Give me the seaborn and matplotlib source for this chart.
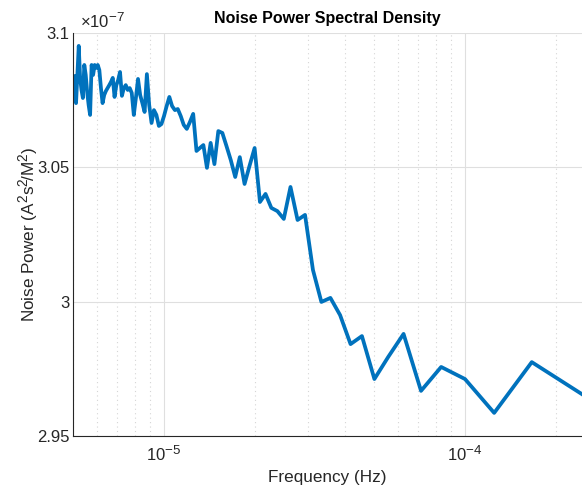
import numpy as np
import pandas as pd
import matplotlib
matplotlib.use("Agg")
import matplotlib.pyplot as plt
import matplotlib.ticker as mticker
import matplotlib._mathtext as _mt
import seaborn as sns

# Frequency grid: f = 5e-4 / n  for n = 100 ... 2  (Hz)
divisors = np.arange(100, 1, -1)
frequency_hz = 5e-4 / divisors

# Noise power values (units of 1e-7 A^2 s^2 / M^2), ascending frequency
noise_power_e7 = [
    3.0799, 3.0840, 3.0739, 3.0844, 3.0952, 3.0833, 3.0788, 3.0758, 3.0881, 3.0844,
    3.0780, 3.0732, 3.0695, 3.0881, 3.0844, 3.0881, 3.0870, 3.0881, 3.0862, 3.0795,
    3.0739, 3.0769, 3.0784, 3.0795, 3.0806, 3.0818, 3.0833, 3.0762, 3.0806, 3.0825,
    3.0855, 3.0766, 3.0795, 3.0806, 3.0788, 3.0795, 3.0777, 3.0695, 3.0758, 3.0829,
    3.0769, 3.0739, 3.0706, 3.0847, 3.0732, 3.0665, 3.0713, 3.0695, 3.0654, 3.0661,
    3.0691, 3.0728, 3.0762, 3.0728, 3.0713, 3.0717, 3.0691, 3.0658, 3.0643, 3.0669,
    3.0699, 3.0561, 3.0572, 3.0583, 3.0498, 3.0591, 3.0512, 3.0635, 3.0628, 3.0579,
    3.0527, 3.0464, 3.0538, 3.0438, 3.0505, 3.0572, 3.0371, 3.0401, 3.0349, 3.0337,
    3.0308, 3.0427, 3.0304, 3.0323, 3.0118, 2.9999, 3.0014, 2.9950, 2.9842, 2.9872,
    2.9712, 2.9794, 2.9880, 2.9668, 2.9757, 2.9712, 2.9586, 2.9775, 2.9649,
]

y_ticks_e7 = [2.95, 3.0, 3.05, 3.1]

df = pd.DataFrame({"freq": frequency_hz,
                   "psd": np.array(noise_power_e7) * 1e-7})

# MATLAB-like (larger) superscripts
_mt.SHRINK_FACTOR = 0.8

sns.set_style("white")
plt.rcParams["font.family"] = ["Liberation Sans", "DejaVu Sans"]
plt.rcParams["mathtext.fontset"] = "custom"
plt.rcParams["mathtext.rm"] = "Liberation Sans"
plt.rcParams["mathtext.it"] = "Liberation Sans:italic"
plt.rcParams["mathtext.bf"] = "Liberation Sans:bold"
plt.rcParams["mathtext.default"] = "regular"

W, H = 582, 486
fig = plt.figure(figsize=(W / 100, H / 100), dpi=100)
left_px, right_px, top_px, bottom_px = 73.4, 582.0, 33.0, 436.0
ax = fig.add_axes([left_px / W, 1 - bottom_px / H,
                   (right_px - left_px) / W, (bottom_px - top_px) / H])

sns.lineplot(data=df, x="freq", y="psd", ax=ax, color="#0072BD",
             linewidth=2.7, sort=True, estimator=None)

ax.set_xscale("log")
ax.set_xlim(5e-6, 10 ** (-4 + (582 - 465) / 301))
ax.set_ylim(2.95e-7, 3.1e-7)
ax.set_yticks([v * 1e-7 for v in y_ticks_e7])
ax.yaxis.set_major_formatter(mticker.FuncFormatter(lambda v, p: "%g" % round(v / 1e-7, 4)))
ax.xaxis.set_major_locator(mticker.LogLocator(base=10, numticks=10))
ax.xaxis.set_minor_locator(mticker.LogLocator(base=10, subs=np.arange(2, 10), numticks=20))
ax.xaxis.set_minor_formatter(mticker.NullFormatter())

ax.grid(True, which="major", axis="both", color="#dfdfdf", linewidth=0.8, linestyle="-")
ax.grid(True, which="minor", axis="x", color="#d5d5d5", linewidth=0.8, linestyle=(0, (1, 3)))
ax.set_axisbelow(True)

for side in ["top", "right"]:
    ax.spines[side].set_visible(False)
for side in ["left", "bottom"]:
    ax.spines[side].set_color("#262626")
    ax.spines[side].set_linewidth(0.8)

ax.tick_params(axis="both", which="major", direction="in", length=4.5, width=0.8,
               colors="#262626", labelsize=12)
ax.tick_params(axis="y", which="major", pad=3)
ax.tick_params(axis="x", which="major", pad=6)
ax.tick_params(axis="x", which="minor", direction="in", length=3, width=0.6, colors="#262626")
ax.tick_params(axis="y", which="minor", left=False)

ax.set_xlabel("Frequency (Hz)", fontsize=12.3, color="#262626", labelpad=4)
ax.set_ylabel(r"Noise Power (A$^{2}$s$^{2}\!$/M$^{2}$)", fontsize=12.3, color="#262626", labelpad=-2)
ax.set_title("Noise Power Spectral Density", fontsize=11.5, fontweight="bold",
             color="black", pad=7)

ax.text(0.012, 1.004, r"$\times$10$^{-7}$", transform=ax.transAxes, ha="left", va="bottom",
        fontsize=12, color="#262626")

fig.savefig("out.png", dpi=100)
